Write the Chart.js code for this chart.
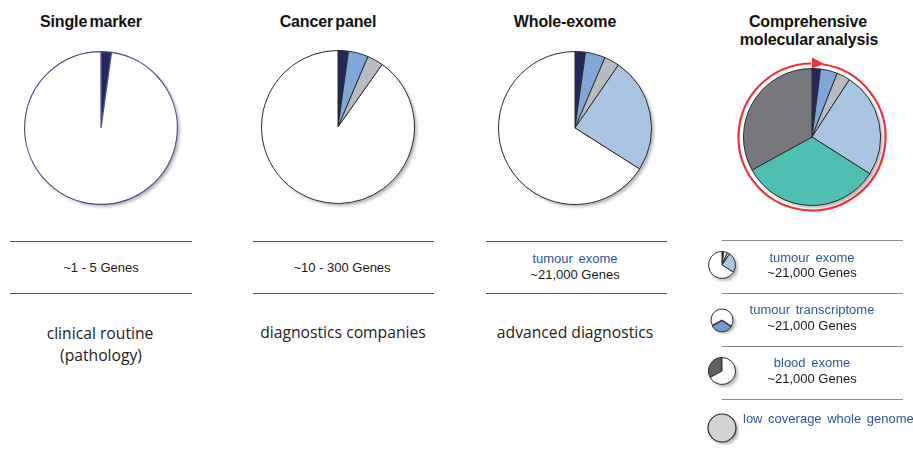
<!DOCTYPE html>
<html>
<head>
<meta charset="utf-8">
<script src="https://cdn.jsdelivr.net/npm/chart.js@4.4.1/dist/chart.umd.min.js"></script>
<style>
  html, body { margin: 0; padding: 0; background: #fff; }
  #stage { position: relative; width: 913px; height: 454px; overflow: hidden; font-family: "Liberation Sans", Arial, sans-serif; }
  #stage canvas { position: absolute; }
  .txt { position: absolute; white-space: nowrap; transform: translate(-50%, -50%); line-height: 1; color: #1a1a1a; }
  .title { font-weight: bold; font-size: 16px; letter-spacing: -0.15px; word-spacing: -2px; color: #111; }
  .gene { font-size: 13px; }
  .blue { font-size: 13px; color: #2f55a3; word-spacing: 2px; }
  .use { font-family: "Open Sans", "Noto Sans", sans-serif; font-size: 15.7px; color: #222; }
  .rule { position: absolute; height: 1px; background: #555; }
  .rule.light { background: #8a8a8a; }
</style>
</head>
<body>
<div id="stage"></div>
<script>
// column titles and captions
const titles = ["Single marker", "Cancer panel", "Whole-exome", "Comprehensive", "molecular analysis"];
const geneCounts = ["~1 - 5 Genes", "~10 - 300 Genes", "~21,000 Genes"];
const usage = ["clinical routine", "(pathology)", "diagnostics companies", "advanced diagnostics"];
const layers = ["tumour exome", "tumour transcriptome", "blood exome", "low coverage whole genome"];

// slice shares (%) going clockwise from 12 o'clock
const sliceLabels = ["single marker", "panel genes", "panel extra", "tumour exome", "tumour transcriptome", "blood exome", "not covered"];
const singleMarker = [2.2, 97.8];
const cancerPanel = [2.2, 4.2, 3.4, 90.2];
const wholeExome = [2.2, 4.2, 3.2, 24.4, 66.0];
const comprehensive = [2.0, 4.0, 3.2, 24.8, 33.0, 33.0];

// legend icons: highlighted share vs rest
const transcriptomeIcon = [33.0, 67.0];
const bloodIcon = [33.0, 67.0];
const lowCoverage = [100];

const NAVY = "#23265f", MID = "#80a7da", GREY = "#b8bbbf", LIGHT = "#aac4e3", TEAL = "#4ebfb1", DARK = "#77787c";

const stage = document.getElementById("stage");

const shadowPlugin = {
  id: "pieShadow",
  beforeDatasetsDraw(chart) {
    const arc = chart.getDatasetMeta(0).data[0];
    if (!arc) return;
    const ctx = chart.ctx;
    ctx.save();
    ctx.filter = "blur(1.5px)";
    ctx.fillStyle = "rgba(0,0,0,0.28)";
    ctx.beginPath();
    ctx.arc(arc.x + 2.5, arc.y + 2.5, arc.outerRadius, 0, Math.PI * 2);
    ctx.fill();
    ctx.restore();
  }
};

// plain outline for whole-circle icons, red circular arrow round the last pie
const ringPlugin = {
  id: "ring",
  afterDatasetsDraw(chart, args, opts) {
    const arc = chart.getDatasetMeta(0).data[0];
    const ctx = chart.ctx;
    if (opts.outline) {
      ctx.save();
      ctx.strokeStyle = "#2b2b2b";
      ctx.lineWidth = 1.2;
      ctx.beginPath();
      ctx.arc(arc.x, arc.y, arc.outerRadius, 0, Math.PI * 2);
      ctx.stroke();
      ctx.restore();
    }
    if (!opts.show) return;
    const r = arc.outerRadius + 5;
    const top = -Math.PI / 2;
    ctx.save();
    ctx.strokeStyle = "#e8343d";
    ctx.lineWidth = 2.2;
    ctx.beginPath();
    ctx.arc(arc.x, arc.y, r, top + 0.14, top - 0.01 + Math.PI * 2);
    ctx.stroke();
    ctx.fillStyle = "#e8343d";
    ctx.beginPath();
    ctx.moveTo(arc.x, arc.y - r - 6);
    ctx.lineTo(arc.x + 12, arc.y - r + 0.5);
    ctx.lineTo(arc.x, arc.y - r + 5);
    ctx.closePath();
    ctx.fill();
    ctx.restore();
  }
};

function makePie(cx, cy, radius, values, colors, opts) {
  opts = opts || {};
  const pad = opts.pad || 4;
  const size = (radius + pad) * 2;
  const cv = document.createElement("canvas");
  cv.width = size; cv.height = size;
  cv.style.left = (cx - size / 2) + "px";
  cv.style.top = (cy - size / 2) + "px";
  stage.appendChild(cv);
  return new Chart(cv, {
    type: "pie",
    data: {
      labels: sliceLabels.slice(0, values.length),
      datasets: [{
        data: values,
        backgroundColor: colors,
        borderColor: opts.border || "#2b2b2b",
        borderWidth: opts.borderWidth === undefined ? 1 : opts.borderWidth,
        offset: opts.offset || 0
      }]
    },
    options: {
      responsive: false,
      animation: false,
      events: [],
      rotation: opts.rotation || 0,
      layout: { padding: pad },
      plugins: {
        legend: { display: false },
        tooltip: { enabled: false },
        ring: { show: !!opts.ring, outline: !!opts.outline }
      }
    },
    plugins: [shadowPlugin, ringPlugin]
  });
}

function text(str, cx, cy, cls, left) {
  const d = document.createElement("div");
  d.className = "txt " + cls;
  d.textContent = str;
  d.style.left = cx + "px";
  d.style.top = cy + "px";
  if (left) d.style.transform = "translate(0,-50%)";
  stage.appendChild(d);
}

function rule(x0, x1, y, light) {
  const d = document.createElement("div");
  d.className = "rule" + (light ? " light" : "");
  d.style.left = x0 + "px";
  d.style.width = (x1 - x0) + "px";
  d.style.top = y + "px";
  stage.appendChild(d);
}

// big pies
makePie(101, 128, 77, singleMarker, [NAVY, "#ffffff"], { border: "#4b4f88", borderWidth: 1.2 });
makePie(338, 127, 77, cancerPanel, [NAVY, MID, GREY, "#ffffff"]);
makePie(575, 128, 77, wholeExome, [NAVY, MID, GREY, LIGHT, "#ffffff"]);
makePie(812, 137, 69, comprehensive, [NAVY, MID, GREY, LIGHT, TEAL, DARK], { pad: 12, ring: true });

// small legend pies
makePie(722, 265, 14, wholeExome, [NAVY, "#ffffff", GREY, LIGHT, "#ffffff"], { pad: 3 });
makePie(722, 320, 13, transcriptomeIcon, ["#6d9bd5", "#ffffff"], { pad: 4, rotation: 123, offset: [3, 0] });
makePie(722, 371, 14, bloodIcon, ["#5f6068", "#ffffff"], { pad: 3, rotation: 241 });
makePie(722, 428, 14, lowCoverage, ["#d2d3d5"], { pad: 3, borderWidth: 0, outline: true });

// titles
text(titles[0], 91, 22, "title");
text(titles[1], 328, 22, "title");
text(titles[2], 565, 22, "title");
text(titles[3], 808, 22, "title");
text(titles[4], 809, 40, "title");

// rules
[[10, 192], [253, 434], [486, 667]].forEach(function (c) { rule(c[0], c[1], 241); rule(c[0], c[1], 293); });
[240, 293, 346, 399].forEach(function (y) { rule(722, 903, y, true); });

// gene counts
text(geneCounts[0], 101, 267, "gene");
text(geneCounts[1], 342, 267, "gene");
text(layers[0], 575, 258, "blue");
text(geneCounts[2], 575, 274, "gene");

// usage
text(usage[0], 100, 334, "use");
text(usage[1], 101, 356, "use");
text(usage[2], 343, 333, "use");
text(usage[3], 575, 333, "use");

// comprehensive layers
text(layers[0], 812, 257, "blue");
text(geneCounts[2], 812, 272, "gene");
text(layers[1], 812, 309, "blue");
text(geneCounts[2], 812, 325, "gene");
text(layers[2], 812, 362, "blue");
text(geneCounts[2], 812, 378, "gene");
text(layers[3], 743, 418, "blue", true);
</script>
</body>
</html>
